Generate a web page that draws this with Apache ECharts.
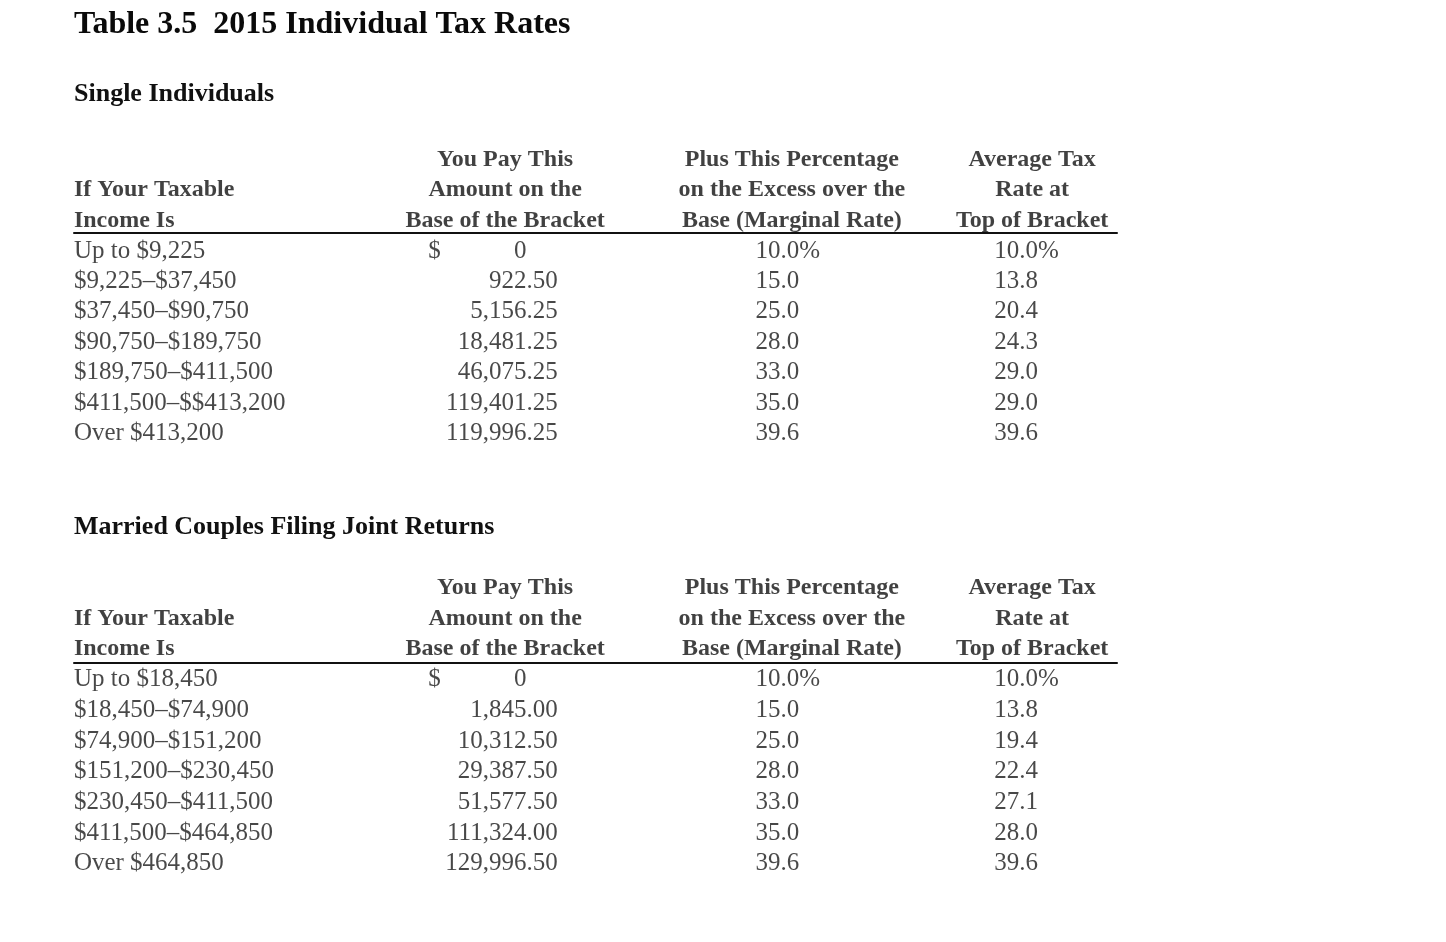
<!DOCTYPE html>
<html><head><meta charset="utf-8">
<script src="https://cdn.jsdelivr.net/npm/echarts@6/dist/echarts.min.js"></script>
<style>html,body{margin:0;padding:0;background:#fff}#c{width:1446px;height:942px}</style>
</head><body><div id="c"></div>
<script>
// ---------- data ----------
const titleText = 'Table 3.5  2015 Individual Tax Rates';
const sectionTitles = ['Single Individuals', 'Married Couples Filing Joint Returns'];
const columns = ['income', 'base', 'marginal', 'average'];
const headerRows = ['h1', 'h2', 'h3'];
const headerIncome = ['', 'If Your Taxable', 'Income Is'];
const headerBase = ['You Pay This', 'Amount on the', 'Base of the Bracket'];
const headerMarginal = ['Plus This Percentage', 'on the Excess over the', 'Base (Marginal Rate)'];
const headerAverage = ['Average Tax', 'Rate at', 'Top of Bracket'];

const singleBrackets = ['Up to $9,225', '$9,225–$37,450', '$37,450–$90,750', '$90,750–$189,750',
  '$189,750–$411,500', '$411,500–$$413,200', 'Over $413,200'];
const singleBase = [0, 922.50, 5156.25, 18481.25, 46075.25, 119401.25, 119996.25];
const singleMarginal = [10.0, 15.0, 25.0, 28.0, 33.0, 35.0, 39.6];
const singleAverage = [10.0, 13.8, 20.4, 24.3, 29.0, 29.0, 39.6];

const marriedBrackets = ['Up to $18,450', '$18,450–$74,900', '$74,900–$151,200', '$151,200–$230,450',
  '$230,450–$411,500', '$411,500–$464,850', 'Over $464,850'];
const marriedBase = [0, 1845.00, 10312.50, 29387.50, 51577.50, 111324.00, 129996.50];
const marriedMarginal = [10.0, 15.0, 25.0, 28.0, 33.0, 35.0, 39.6];
const marriedAverage = [10.0, 13.8, 19.4, 22.4, 27.1, 28.0, 39.6];

// ---------- style / layout ----------
const FONT = 'Liberation Serif';
const INK = '#111111';
const BODY = { fontFamily: FONT, fontSize: 25, color: '#1a1a1a' };
const HEAD = { fontFamily: FONT, fontSize: 24, fontWeight: 'bold', color: INK };
// per column: label alignment and horizontal offset from the column's band centre
const headLayout = { income: ['left', -130.5], base: ['center', 40], marginal: ['center', 66], average: ['center', 45.5] };
const bodyLayout = { income: ['left', -130.5], base: ['right', 92.5], marginal: ['left', 29.5], average: ['left', 7.5] };
const dollarLayout = ['left', -37];

const tables = [
  { brackets: singleBrackets, base: singleBase, marginal: singleMarginal, average: singleAverage,
    grid: { left: 74, right: 329, top: 144.5, height: 304.4 }, ruleOffset: 88.5 },
  { brackets: marriedBrackets, base: marriedBase, marginal: marriedMarginal, average: marriedAverage,
    grid: { left: 74, right: 329, top: 572.5, height: 306.7 }, ruleOffset: 90 }
];

function fmtBase(v) {
  if (v === 0) return '0{h|.00}';
  return v.toLocaleString('en-US', { minimumFractionDigits: 2, maximumFractionDigits: 2 });
}
function fmtPct(v, i) { return v.toFixed(1) + (i === 0 ? '%' : ''); }

function cell(col, row, text, style, lay) {
  return {
    value: [col, row], name: text,
    label: Object.assign({ align: lay[0], offset: [lay[1], 0] }, style)
  };
}

const grids = [], xAxes = [], yAxes = [], series = [];
tables.forEach((t, ti) => {
  grids.push(Object.assign({ containLabel: false }, t.grid));
  // the rule under the column headings is this axis's line, moved down into the grid
  xAxes.push({
    type: 'category', gridIndex: ti, data: columns, boundaryGap: true,
    position: 'top', offset: -t.ruleOffset,
    axisLine: { show: true, lineStyle: { color: '#111', width: 2 } },
    axisTick: { show: false }, axisLabel: { show: false }, splitLine: { show: false }
  });
  yAxes.push({
    type: 'category', gridIndex: ti, inverse: true, boundaryGap: true,
    data: headerRows.concat(t.brackets),
    axisLine: { show: false }, axisTick: { show: false }, axisLabel: { show: false },
    splitLine: { show: false }
  });
  const heads = { income: headerIncome, base: headerBase, marginal: headerMarginal, average: headerAverage };
  const headData = [];
  columns.forEach(c => heads[c].forEach((txt, r) => { if (txt) headData.push(cell(c, headerRows[r], txt, HEAD, headLayout[c])); }));
  const bodyData = [];
  t.brackets.forEach((b, i) => {
    bodyData.push(cell('income', b, b, BODY, bodyLayout.income));
    bodyData.push(cell('base', b, fmtBase(t.base[i]), BODY, bodyLayout.base));
    bodyData.push(cell('marginal', b, fmtPct(t.marginal[i], i), BODY, bodyLayout.marginal));
    bodyData.push(cell('average', b, fmtPct(t.average[i], i), BODY, bodyLayout.average));
  });
  bodyData.push(cell('base', t.brackets[0], '$', BODY, dollarLayout));
  [headData, bodyData].forEach(d => series.push({
    type: 'scatter', xAxisIndex: ti, yAxisIndex: ti, data: d, symbolSize: 1,
    itemStyle: { color: 'rgba(0,0,0,0)' }, silent: true,
    label: { show: true, position: 'inside', verticalAlign: 'middle', formatter: p => p.name,
      rich: { h: { color: 'rgba(0,0,0,0)', fontFamily: FONT, fontSize: 25 } } }
  }));
});

const chart = echarts.init(document.getElementById('c'), null, { renderer: 'canvas' });
chart.setOption({
  backgroundColor: '#fff',
  animation: false,
  title: [
    { text: titleText, left: 74, top: 9, padding: 0, textStyle: { fontFamily: FONT, fontWeight: 'bold', fontSize: 32, color: '#0a0a0a' } },
    { text: sectionTitles[0], left: 74, top: 81, padding: 0, textStyle: { fontFamily: FONT, fontWeight: 'bold', fontSize: 26, color: INK } },
    { text: sectionTitles[1], left: 74, top: 514, padding: 0, textStyle: { fontFamily: FONT, fontWeight: 'bold', fontSize: 26, color: INK } }
  ],
  grid: grids, xAxis: xAxes, yAxis: yAxes, series: series
});
</script></body></html>
